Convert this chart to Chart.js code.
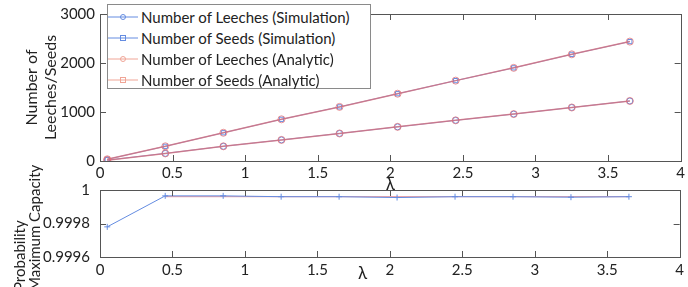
<!DOCTYPE html>
<html>
<head>
<meta charset="utf-8">
<script src="https://cdn.jsdelivr.net/npm/chart.js@4"></script>
<style>
  html, body { margin: 0; padding: 0; background: #fff; }
  #wrap { position: relative; width: 688px; height: 287px; overflow: hidden; font-family: Lato, sans-serif; }
  #topChart { position: absolute; left: 0; top: 0; }
  #bottomChart { position: absolute; left: 0; top: 150px; }
  #legend { position: absolute; left: 107px; top: 4px; width: 262px; height: 83px; background: #fff; border: 1px solid #8a8a8a; }
  .row { position: absolute; left: 0; height: 20px; display: flex; align-items: center; font-size: 15px; color: #222; white-space: nowrap; }
  .row svg { margin-right: 2px; }
  #lambda2 { position: absolute; left: 358px; top: 262px; font-size: 17px; color: #222; }
  #probTitle { position: absolute; left: 12px; top: 291px; transform-origin: 0 0; transform: rotate(-90deg);
               font-size: 15px; line-height: 15px; color: #222; white-space: nowrap; text-align: left; }
</style>
</head>
<body>
<div id="wrap">
  <canvas id="topChart" width="688" height="195"></canvas>
  <canvas id="bottomChart" width="688" height="137"></canvas>
  <div id="legend"></div>
  <div id="lambda2">λ</div>
  <div id="probTitle">Probability<br>Maximum Capacity</div>
</div>
<script>
// Données
const lambdas = [0.05, 0.45, 0.85, 1.25, 1.65, 2.05, 2.45, 2.85, 3.25, 3.65];
const leechesSim = [17, 155, 300, 430, 562, 697, 830, 958, 1092, 1225];
const seedsSim = [35, 300, 576, 851, 1104, 1373, 1640, 1901, 2177, 2437];
const leechesAna = [17, 155, 300, 430, 562, 697, 830, 958, 1092, 1225];
const seedsAna = [35, 300, 576, 851, 1104, 1373, 1640, 1901, 2177, 2437];
const probSim = [0.99978, 0.999965, 0.999965, 0.99996, 0.99996, 0.999955, 0.99996, 0.99996, 0.999957, 0.99996];
const probAna = [null, 0.99996, 0.99996, 0.99996, 0.99996, 0.99996, 0.99996, 0.99996, 0.99996, 0.99996];
const xTicks = [0, 0.5, 1, 1.5, 2, 2.5, 3, 3.5, 4];
const countTicks = [0, 1000, 2000, 3000];
const probTicks = [0.9996, 0.9998, 1];
const legendLabels = ['Number of Leeches (Simulation)', 'Number of Seeds (Simulation)', 'Number of Leeches (Analytic)', 'Number of Seeds (Analytic)'];

const BLUE = 'rgb(100,140,225)';
const RED = 'rgba(225,110,115,0.75)';
const FONT = { family: 'Lato', size: 15 };

const pts = (ys) => ys.map((y, i) => ({ x: lambdas[i], y: y }));

// boîte + petits traits de graduation vers l'intérieur (style MATLAB)
const boxTicks = {
  id: 'boxTicks',
  afterDraw(chart) {
    const { ctx, chartArea: a, scales } = chart;
    ctx.save();
    ctx.strokeStyle = '#555';
    ctx.lineWidth = 1;
    ctx.strokeRect(Math.round(a.left) + 0.5, Math.round(a.top) + 0.5, Math.round(a.right - a.left), Math.round(a.bottom - a.top));
    ctx.beginPath();
    scales.x.ticks.forEach(t => {
      const px = Math.round(scales.x.getPixelForValue(t.value)) + 0.5;
      ctx.moveTo(px, a.bottom); ctx.lineTo(px, a.bottom - 6);
      ctx.moveTo(px, a.top); ctx.lineTo(px, a.top + 6);
    });
    scales.y.ticks.forEach(t => {
      const py = Math.round(scales.y.getPixelForValue(t.value)) + 0.5;
      ctx.moveTo(a.left, py); ctx.lineTo(a.left + 6, py);
      ctx.moveTo(a.right, py); ctx.lineTo(a.right - 6, py);
    });
    ctx.stroke();
    ctx.restore();
  }
};

function xScale(showTitle, h, pad) {
  return {
    type: 'linear', min: 0, max: 4,
    afterBuildTicks: s => { s.ticks = xTicks.map(v => ({ value: v })); },
    afterFit: s => { s.height = h; },
    grid: { display: false, drawTicks: false },
    border: { display: false },
    ticks: { font: FONT, color: '#222', padding: pad, maxRotation: 0, callback: v => String(v) },
    title: { display: showTitle, text: 'λ', font: { family: 'Lato', size: 17 }, color: '#222', padding: 0 }
  };
}

function yScale(list, min, max, titleLines, fmt, pad) {
  return {
    type: 'linear', min: min, max: max,
    afterBuildTicks: s => { s.ticks = list.map(v => ({ value: v })); },
    afterFit: s => { s.width = 100; },
    grid: { display: false, drawTicks: false },
    border: { display: false },
    ticks: { font: FONT, color: '#222', padding: pad, callback: fmt },
    title: { display: !!titleLines, text: titleLines || '', font: { family: 'Lato', size: 16 }, color: '#222', padding: { top: 22, bottom: 0 } }
  };
}

new Chart(document.getElementById('topChart'), {
  type: 'line',
  data: {
    datasets: [
      { label: legendLabels[0], data: pts(leechesSim), borderColor: BLUE, backgroundColor: 'transparent', borderWidth: 1, pointStyle: 'circle', pointRadius: 3, pointBorderColor: BLUE, pointBorderWidth: 1, order: 2 },
      { label: legendLabels[1], data: pts(seedsSim), borderColor: BLUE, backgroundColor: 'transparent', borderWidth: 1, pointStyle: 'rect', pointRadius: 3, pointBorderColor: BLUE, pointBorderWidth: 1, order: 2 },
      { label: legendLabels[2], data: pts(leechesAna), borderColor: RED, backgroundColor: 'transparent', borderWidth: 1.5, pointStyle: 'circle', pointRadius: 3.5, pointBorderColor: RED, pointBorderWidth: 1, order: 1 },
      { label: legendLabels[3], data: pts(seedsAna), borderColor: RED, backgroundColor: 'transparent', borderWidth: 1.5, pointStyle: 'circle', pointRadius: 3.5, pointBorderColor: RED, pointBorderWidth: 1, order: 1 }
    ]
  },
  options: {
    responsive: false, animation: false,
    layout: { padding: { top: 12, right: 6, left: 0, bottom: 0 } },
    plugins: { legend: { display: false }, tooltip: { enabled: false } },
    scales: {
      x: xScale(true, 34, 3),
      y: yScale(countTicks, 0, 3000, ['Number of', 'Leeches/Seeds'], v => String(v), 5)
    }
  },
  plugins: [boxTicks]
});

new Chart(document.getElementById('bottomChart'), {
  type: 'line',
  data: {
    datasets: [
      { label: 'Simulation', data: pts(probSim), borderColor: BLUE, backgroundColor: 'transparent', borderWidth: 1, pointStyle: 'cross', pointRadius: 3, pointBorderColor: BLUE, pointBorderWidth: 1, order: 1 },
      { label: 'Analytic', data: pts(probAna), borderColor: RED, backgroundColor: 'transparent', borderWidth: 1, pointRadius: 0, order: 2 }
    ]
  },
  options: {
    responsive: false, animation: false,
    layout: { padding: { top: 40, right: 6, left: 0, bottom: 0 } },
    plugins: { legend: { display: false }, tooltip: { enabled: false } },
    scales: {
      x: xScale(false, 30, 4),
      y: yScale(probTicks, 0.9996, 1, null, v => (v === 1 ? '1' : v.toFixed(4)), 10)
    }
  },
  plugins: [boxTicks]
});

// légende HTML (encadré par-dessus le graphique du haut)
const legendColors = [BLUE, BLUE, 'rgb(240,165,150)', 'rgb(240,165,150)'];
const legendMarkers = ['circle', 'rect', 'circle', 'rect'];
const legend = document.getElementById('legend');
legendLabels.forEach((lab, i) => {
  const row = document.createElement('div');
  row.className = 'row';
  row.style.top = (2 + i * 21) + 'px';
  const c = legendColors[i];
  const mk = legendMarkers[i] === 'circle'
    ? `<circle cx="15" cy="6" r="2.5" fill="none" stroke="${c}" stroke-width="1"/>`
    : `<rect x="12.5" y="3.5" width="5" height="5" fill="none" stroke="${c}" stroke-width="1"/>`;
  row.innerHTML = `<svg width="31" height="12"><line x1="0" y1="6" x2="30" y2="6" stroke="${c}" stroke-width="1"/>${mk}</svg><span>${lab}</span>`;
  legend.appendChild(row);
});
</script>
</body>
</html>
